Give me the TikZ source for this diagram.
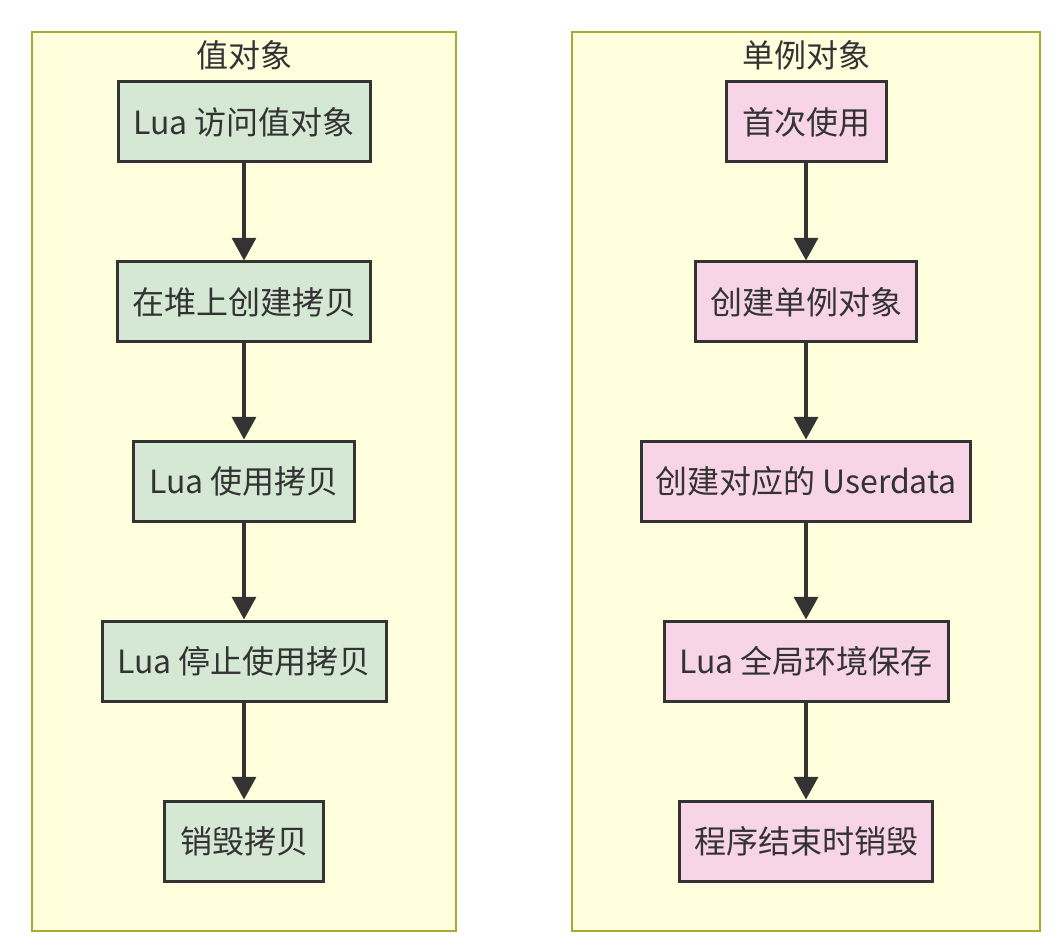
\documentclass[tikz,border=0pt]{standalone}
\usepackage{fontspec}
\setmainfont{Noto Sans CJK SC}
\usetikzlibrary{arrows.meta}
\definecolor{groupfill}{HTML}{FFFFDE}
\definecolor{groupline}{HTML}{AAAA33}
\definecolor{valuefill}{HTML}{D5E8D4}
\definecolor{singlefill}{HTML}{F8D5E6}
\definecolor{inkgrey}{HTML}{333333}
\tikzset{
	stepbox/.style={draw=inkgrey, line width=2.25pt, minimum height=60pt, inner sep=0pt, text=inkgrey, font=\fontsize{24}{28}\selectfont},
	valuebox/.style={stepbox, fill=valuefill},
	singlebox/.style={stepbox, fill=singlefill},
	grouptitle/.style={text=inkgrey, font=\fontsize{24}{28}\selectfont},
	flowarrow/.style={draw=inkgrey, line width=2.6pt, -{Triangle[width=18pt, length=17pt]}}
}

\begin{document}
\begin{tikzpicture}[x=0.75pt, y=-0.75pt]
			%%%%% START %%%%%
			
			\useasboundingbox[fill=white] (0, 0) rectangle (1056, 948);
			
			\draw[fill=groupfill, draw=groupline, line width=1.5pt] (32, 32) rectangle (456, 931);
			\draw[fill=groupfill, draw=groupline, line width=1.5pt] (572, 32) rectangle (1040, 931);
			
			\node[grouptitle] (valuetitle) at (244, 55) {值对象};
			\node[grouptitle] (singletitle) at (806, 55) {单例对象};
			
			\node[valuebox, minimum width=189pt] (access) at (244, 122) {Lua 访问值对象};
			\node[valuebox, minimum width=190pt] (copy) at (244, 302) {在堆上创建拷贝};
			\node[valuebox, minimum width=166pt] (use) at (244, 481) {Lua 使用拷贝};
			\node[valuebox, minimum width=213pt] (stop) at (244, 661) {Lua 停止使用拷贝};
			\node[valuebox, minimum width=119pt] (destroy) at (244, 841) {销毁拷贝};
			
			\node[singlebox, minimum width=120pt] (first) at (806, 122) {首次使用};
			\node[singlebox, minimum width=166pt] (create) at (806, 302) {创建单例对象};
			\node[singlebox, minimum width=247pt] (userdata) at (806, 481) {创建对应的 Userdata};
			\node[singlebox, minimum width=213pt] (keep) at (806, 661) {Lua 全局环境保存};
			\node[singlebox, minimum width=190pt] (finish) at (806, 841) {程序结束时销毁};
			
			\draw[flowarrow] (access) -- (copy);
			\draw[flowarrow] (copy) -- (use);
			\draw[flowarrow] (use) -- (stop);
			\draw[flowarrow] (stop) -- (destroy);
			
			\draw[flowarrow] (first) -- (create);
			\draw[flowarrow] (create) -- (userdata);
			\draw[flowarrow] (userdata) -- (keep);
			\draw[flowarrow] (keep) -- (finish);
			
			%%%%% END %%%%%
\end{tikzpicture}
\end{document}
